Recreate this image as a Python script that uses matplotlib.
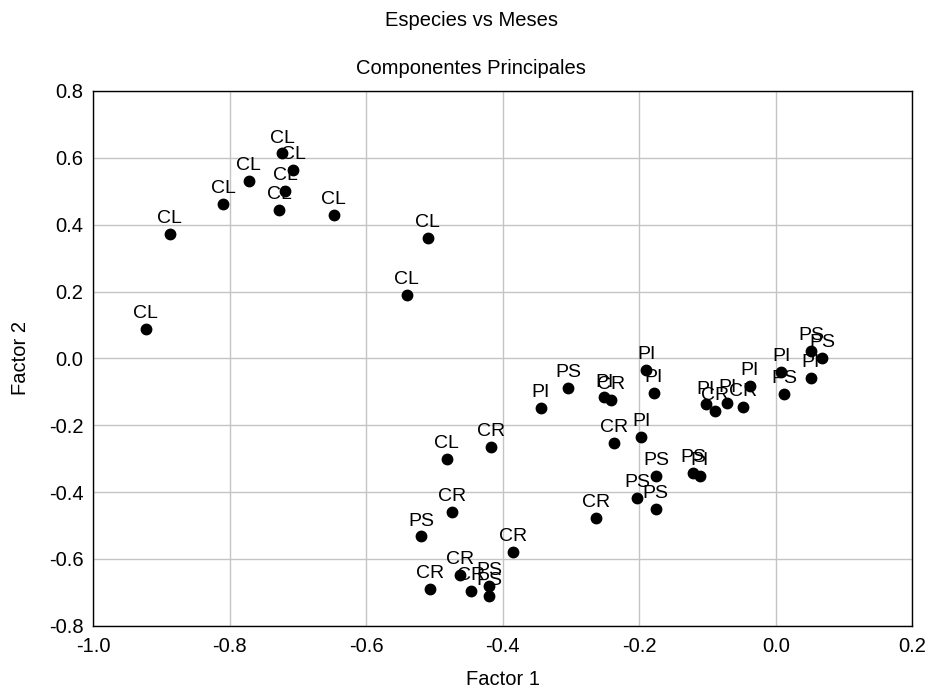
import matplotlib
matplotlib.use("Agg")
import matplotlib.pyplot as plt

plt.rcParams['font.family'] = ['Liberation Sans', 'DejaVu Sans']

# especie de cada punto y coordenadas (Factor 1, Factor 2)
labels = ['CL', 'CL', 'CL', 'CL', 'CL', 'CL', 'CL', 'CL', 'CL', 'CL', 'CL', 'CL',
          'CR', 'CR', 'CR', 'CR', 'CR', 'CR', 'CR', 'CR', 'CR', 'CR', 'CR',
          'PI', 'PI', 'PI', 'PI', 'PI', 'PI', 'PI', 'PI', 'PI', 'PI', 'PI',
          'PS', 'PS', 'PS', 'PS', 'PS', 'PS', 'PS', 'PS', 'PS', 'PS', 'PS']
factor1 = [-0.723, -0.707, -0.772, -0.719, -0.810, -0.728, -0.648, -0.888, -0.510, -0.541, -0.923, -0.482,
           -0.242, -0.089, -0.048, -0.417, -0.237, -0.263, -0.475, -0.385, -0.463, -0.506, -0.447,
           -0.190, -0.179, -0.251, -0.344, -0.103, -0.071, -0.038, -0.197, -0.111, 0.008, 0.051,
           -0.304, -0.175, -0.121, -0.203, -0.176, -0.520, -0.420, -0.420, 0.052, 0.068, 0.012]
factor2 = [0.613, 0.564, 0.530, 0.501, 0.462, 0.443, 0.429, 0.371, 0.361, 0.189, 0.087, -0.300,
           -0.125, -0.157, -0.146, -0.264, -0.253, -0.478, -0.461, -0.580, -0.649, -0.690, -0.695,
           -0.034, -0.103, -0.117, -0.149, -0.138, -0.133, -0.083, -0.234, -0.351, -0.041, -0.060,
           -0.088, -0.351, -0.343, -0.419, -0.451, -0.533, -0.682, -0.711, 0.021, 0.002, -0.107]

xticks = [-1.0, -0.8, -0.6, -0.4, -0.2, 0.0, 0.2]
yticks = [-0.8, -0.6, -0.4, -0.2, 0.0, 0.2, 0.4, 0.6, 0.8]

fig = plt.figure(figsize=(9.3, 6.92), dpi=100)
ax = fig.add_axes([93.3 / 930, 1 - 625.7 / 692, (912.3 - 93.3) / 930, (625.7 - 91) / 692])

ax.plot(factor1, factor2, 'o', color='black', markersize=7.5, zorder=3)
for lab, x, y in zip(labels, factor1, factor2):
    ax.annotate(lab, (x, y), xytext=(0, 5), textcoords='offset points',
                ha='center', va='bottom', fontsize=14, zorder=4)

ax.set_xlim(-1.0, 0.2)
ax.set_ylim(-0.8, 0.8)
ax.set_xticks(xticks)
ax.set_yticks(yticks)
ax.set_xticklabels(['%.1f' % v for v in xticks])
ax.set_yticklabels(['%.1f' % v for v in yticks])
ax.tick_params(length=0, labelsize=14.5)
ax.tick_params(axis='x', pad=8)
ax.tick_params(axis='y', pad=7)
ax.grid(True, color='#c4c4c4', linewidth=1)
ax.set_axisbelow(True)
for s in ax.spines.values():
    s.set_linewidth(1)
    s.set_color('black')

ax.set_xlabel('Factor 1', fontsize=14.5, labelpad=10)
ax.set_ylabel('Factor 2', fontsize=14.5, labelpad=14)

fig.text(0.5068, 1 - 25.7 / 692, 'Especies vs Meses', ha='center', va='baseline', fontsize=14.5)
fig.text(0.5068, 1 - 74.3 / 692, 'Componentes Principales', ha='center', va='baseline', fontsize=14.5)

fig.savefig('out.png', dpi=100)
